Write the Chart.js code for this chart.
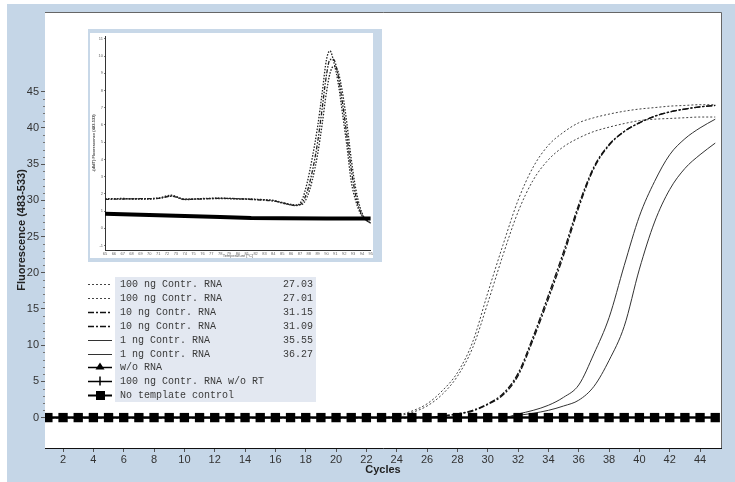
<!DOCTYPE html>
<html lang="en">
<head>
<meta charset="UTF-8">
<title>Amplification curves</title>
<script src="https://cdn.jsdelivr.net/npm/chart.js"></script>
<style>
  html, body { margin: 0; padding: 0; background: #fff; }
  #page { position: relative; width: 735px; height: 482px; overflow: hidden; }
  #frame { position: absolute; left: 7px; top: 4px; width: 728px; height: 478px; background: #c5d6e7; }
  #mainChart { position: absolute; left: 0; top: 0; }
  #insetBox { position: absolute; left: 88px; top: 29px; width: 294px; height: 233px; background: #c8d8e8; }
  #insetChart { position: absolute; left: 90px; top: 33px; background: #fff; }
</style>
</head>
<body>
<div id="page">
  <div id="frame"></div>
  <canvas id="mainChart" width="735" height="482"></canvas>
  <div id="insetBox"></div>
  <canvas id="insetChart" width="283" height="225"></canvas>
</div>

<script>
// amplification data, one value per cycle
const cycles = [1, 2, 3, 4, 5, 6, 7, 8, 9, 10, 11, 12, 13, 14, 15, 16, 17, 18, 19, 20, 21, 22, 23,
  24, 25, 26, 27, 28, 29, 30, 31, 32, 33, 34, 35, 36, 37, 38, 39, 40, 41, 42, 43, 44, 45];

const ng100a = [0, 0, 0, 0, 0, 0, 0, 0, 0, 0, 0, 0, 0, 0, 0, 0, 0, 0, 0, 0, 0, 0, 0,
  0.3, 0.9, 1.9, 3.7, 6.2, 10.4, 17.2, 23.8, 30.0, 34.6, 37.6, 39.4, 40.7, 41.4, 41.9, 42.3, 42.6, 42.8, 43.0, 43.1, 43.2, 43.2];
const ng100b = [0, 0, 0, 0, 0, 0, 0, 0, 0, 0, 0, 0, 0, 0, 0, 0, 0, 0, 0, 0, 0, 0, 0,
  0.2, 0.7, 1.6, 3.2, 5.7, 9.6, 15.8, 22.4, 28.4, 32.8, 35.6, 37.4, 38.6, 39.5, 40.1, 40.6, 41.0, 41.2, 41.3, 41.4, 41.5, 41.5];
const ng10a = [0, 0, 0, 0, 0, 0, 0, 0, 0, 0, 0, 0, 0, 0, 0, 0, 0, 0, 0, 0, 0, 0, 0, 0, 0, 0,
  0.2, 0.5, 0.9, 1.8, 3.1, 5.8, 10.8, 16.4, 22.4, 29.0, 34.4, 37.6, 39.5, 40.7, 41.6, 42.2, 42.6, 42.9, 43.1];
const ng10b = [0, 0, 0, 0, 0, 0, 0, 0, 0, 0, 0, 0, 0, 0, 0, 0, 0, 0, 0, 0, 0, 0, 0, 0, 0, 0,
  0.2, 0.5, 1.0, 1.9, 3.3, 6.1, 11.2, 16.9, 22.9, 29.4, 34.6, 37.7, 39.5, 40.7, 41.6, 42.2, 42.6, 42.9, 43.1];
const ng1a = [0, 0, 0, 0, 0, 0, 0, 0, 0, 0, 0, 0, 0, 0, 0, 0, 0, 0, 0, 0, 0, 0, 0, 0, 0, 0, 0, 0, 0, 0, 0,
  0.5, 1.0, 1.7, 2.8, 4.5, 8.8, 13.8, 21.0, 27.8, 32.6, 36.3, 38.5, 40.0, 41.2];
const ng1b = [0, 0, 0, 0, 0, 0, 0, 0, 0, 0, 0, 0, 0, 0, 0, 0, 0, 0, 0, 0, 0, 0, 0, 0, 0, 0, 0, 0, 0, 0, 0,
  0.3, 0.6, 1.0, 1.6, 2.4, 4.3, 7.9, 12.6, 20.5, 27.0, 31.5, 34.4, 36.3, 37.9];
const noRna = [0, 0, 0, 0, 0, 0, 0, 0, 0, 0, 0, 0, 0, 0, 0, 0, 0, 0, 0, 0, 0, 0, 0,
  0, 0, 0, 0, 0, 0, 0, 0, 0, 0, 0, 0, 0, 0, 0, 0, 0, 0, 0, 0, 0, 0];
const noRt = [0, 0, 0, 0, 0, 0, 0, 0, 0, 0, 0, 0, 0, 0, 0, 0, 0, 0, 0, 0, 0, 0, 0,
  0, 0, 0, 0, 0, 0, 0, 0, 0, 0, 0, 0, 0, 0, 0, 0, 0, 0, 0, 0, 0, 0];
const ntc = [0, 0, 0, 0, 0, 0, 0, 0, 0, 0, 0, 0, 0, 0, 0, 0, 0, 0, 0, 0, 0, 0, 0,
  0, 0, 0, 0, 0, 0, 0, 0, 0, 0, 0, 0, 0, 0, 0, 0, 0, 0, 0, 0, 0, 0];

const sampleNames = ['100 ng Contr. RNA', '100 ng Contr. RNA', '10 ng Contr. RNA', '10 ng Contr. RNA',
  '1 ng Contr. RNA', '1 ng Contr. RNA', 'w/o RNA', '100 ng Contr. RNA w/o RT', 'No template control'];
const ctValues = ['27.03', '27.01', '31.15', '31.09', '35.55', '36.27', '', '', ''];

const xTicks = [2, 4, 6, 8, 10, 12, 14, 16, 18, 20, 22, 24, 26, 28, 30, 32, 34, 36, 38, 40, 42, 44];
const yTicks = [0, 5, 10, 15, 20, 25, 30, 35, 40, 45];

// melting curve (inset)
const meltTemps = [65, 67, 69, 71, 72.5, 74, 76, 78, 80, 82, 84, 85.5, 86.5, 87.2, 87.8, 88.4, 89, 89.5,
  90, 90.4, 90.8, 91.3, 91.8, 92.3, 92.8, 93.3, 93.8, 94.3, 95];
const meltHigh = [1.70, 1.73, 1.71, 1.76, 1.92, 1.66, 1.73, 1.75, 1.71, 1.69, 1.60, 1.40, 1.33, 1.60, 2.60, 4.10, 5.90, 7.80,
  9.80, 10.30, 9.70, 8.50, 6.70, 4.80, 2.70, 1.60, 0.90, 0.55, 0.30];
const meltMid = [1.68, 1.70, 1.72, 1.74, 1.86, 1.68, 1.70, 1.74, 1.72, 1.66, 1.58, 1.42, 1.32, 1.45, 2.10, 3.30, 5.00, 6.90,
  8.90, 9.80, 9.80, 8.90, 7.30, 5.40, 3.40, 1.90, 1.00, 0.55, 0.30];
const meltLow = [1.72, 1.71, 1.69, 1.73, 1.88, 1.70, 1.72, 1.73, 1.70, 1.67, 1.62, 1.44, 1.36, 1.38, 1.80, 2.80, 4.30, 6.00,
  7.90, 9.00, 9.40, 9.10, 7.90, 6.10, 4.00, 2.30, 1.20, 0.60, 0.30];
const negTemps = [65, 68, 72, 75, 78, 81.5, 85, 90, 95];
const negMelt = [0.84, 0.80, 0.74, 0.70, 0.66, 0.60, 0.58, 0.57, 0.57];
const meltXTicks = [65, 66, 67, 68, 69, 70, 71, 72, 73, 74, 75, 76, 77, 78, 79, 80, 81, 82, 83, 84, 85, 86, 87, 88, 89, 90, 91, 92, 93, 94, 95];
const meltYTicks = [-1, 0, 1, 2, 3, 4, 5, 6, 7, 8, 9, 10, 11];

function pts(xs, ys) {
  return xs.map((x, i) => ({ x: x, y: ys[i] }));
}

const dotted = [2, 2];
const dashDot = [6, 2, 2, 2];

function curve(label, vals, dash, color, width) {
  return {
    label: label,
    data: pts(cycles, vals),
    borderColor: color,
    borderWidth: width,
    borderDash: dash,
    pointRadius: 0,
    fill: false,
    cubicInterpolationMode: 'monotone'
  };
}

const datasets = [
  curve(sampleNames[0], ng100a, dotted, '#444', 1),
  curve(sampleNames[1], ng100b, dotted, '#444', 1),
  curve(sampleNames[2], ng10a, dashDot, '#111', 1.3),
  curve(sampleNames[3], ng10b, dashDot, '#111', 1.3),
  curve(sampleNames[4], ng1a, [], '#333', 1),
  curve(sampleNames[5], ng1b, [], '#333', 1),
  { label: sampleNames[6], data: pts(cycles, noRna), borderColor: '#000', backgroundColor: '#000', borderWidth: 1.5,
    pointStyle: 'triangle', pointRadius: 3, pointBorderWidth: 0, order: 1 },
  { label: sampleNames[7], data: pts(cycles, noRt), borderColor: '#000', backgroundColor: '#000', borderWidth: 1.5,
    pointStyle: 'cross', pointRadius: 3, pointBorderWidth: 1, order: 1 },
  { label: sampleNames[8], data: pts(cycles, ntc), borderColor: '#000', backgroundColor: '#000', borderWidth: 2,
    pointStyle: 'rect', pointRadius: 6.6, pointBorderWidth: 0, order: -1 }
];

// white plot area + frame on top/right
const plotFrame = {
  id: 'plotFrame',
  beforeDatasetsDraw(chart) {
    const { ctx, chartArea: a } = chart;
    ctx.save();
    ctx.fillStyle = '#fff';
    ctx.fillRect(a.left, a.top, a.right - a.left, a.bottom - a.top);
    ctx.restore();
  },
  afterDraw(chart) {
    const { ctx, chartArea: a } = chart;
    ctx.save();
    ctx.strokeStyle = '#666';
    ctx.lineWidth = 1;
    ctx.beginPath();
    ctx.moveTo(a.left, Math.round(a.top) + 0.5);
    ctx.lineTo(Math.round(a.right) + 0.5, Math.round(a.top) + 0.5);
    ctx.lineTo(Math.round(a.right) + 0.5, a.bottom);
    ctx.stroke();
    // minor ticks on y
    const ys = chart.scales.y;
    ctx.strokeStyle = '#777';
    for (let v = 0; v <= 45; v++) {
      if (v % 5 === 0) continue;
      const py = Math.round(ys.getPixelForValue(v)) + 0.5;
      ctx.beginPath();
      ctx.moveTo(a.left - 2, py);
      ctx.lineTo(a.left, py);
      ctx.stroke();
    }
    ctx.restore();
  }
};

// legend box with Ct values
const ctLegend = {
  id: 'ctLegend',
  afterDraw(chart) {
    const ctx = chart.ctx;
    ctx.save();
    ctx.fillStyle = '#e3e8f1';
    ctx.fillRect(115, 277, 201, 125);
    ctx.font = "10px 'Liberation Mono', 'Courier New', monospace";
    ctx.textBaseline = 'middle';
    chart.data.datasets.forEach((ds, i) => {
      const y = Math.round(284 + i * 13.9) + 0.5;
      ctx.strokeStyle = ds.borderColor;
      ctx.lineWidth = ds.borderWidth;
      ctx.setLineDash(ds.borderDash || []);
      ctx.beginPath();
      ctx.moveTo(88, y);
      ctx.lineTo(112, y);
      ctx.stroke();
      ctx.setLineDash([]);
      ctx.fillStyle = '#000';
      if (ds.pointStyle === 'triangle') {
        ctx.beginPath();
        ctx.moveTo(100, y - 5);
        ctx.lineTo(104.5, y + 2);
        ctx.lineTo(95.5, y + 2);
        ctx.closePath();
        ctx.fill();
      } else if (ds.pointStyle === 'cross') {
        ctx.lineWidth = 1.5;
        ctx.beginPath();
        ctx.moveTo(100, y - 5);
        ctx.lineTo(100, y + 4);
        ctx.stroke();
      } else if (ds.pointStyle === 'rect') {
        ctx.fillRect(96, y - 4.5, 9, 9);
      }
      ctx.fillStyle = '#3a3a3a';
      ctx.textAlign = 'left';
      ctx.fillText(ds.label, 120, y);
      if (ctValues[i]) {
        ctx.textAlign = 'right';
        ctx.fillText(ctValues[i], 313, y);
      }
    });
    ctx.restore();
  }
};

new Chart(document.getElementById('mainChart'), {
  type: 'line',
  data: { datasets: datasets },
  plugins: [plotFrame, ctLegend],
  options: {
    responsive: false,
    animation: false,
    layout: { padding: { top: 12, right: 14, left: 0, bottom: 0 } },
    plugins: { legend: { display: false }, tooltip: { enabled: false } },
    scales: {
      x: {
        type: 'linear',
        min: 0.81,
        max: 45.38,
        afterBuildTicks: s => { s.ticks = xTicks.map(v => ({ value: v })); },
        afterFit: s => { s.height = 34; },
        ticks: { color: '#333', font: { family: 'Liberation Sans', size: 11 }, padding: 1, maxRotation: 0, autoSkip: false },
        grid: { drawOnChartArea: false, tickLength: 4, color: '#555' },
        border: { color: '#111', width: 1 },
        title: { display: true, text: 'Cycles', color: '#222',
          font: { family: 'Liberation Sans', size: 11, weight: 'bold' }, padding: { top: 0, bottom: 5 } }
      },
      y: {
        type: 'linear',
        min: -4.2,
        max: 56,
        afterBuildTicks: s => { s.ticks = yTicks.map(v => ({ value: v })); },
        afterFit: s => { s.width = 45; },
        ticks: { color: '#333', font: { family: 'Liberation Sans', size: 11 }, padding: 2, autoSkip: false },
        grid: { drawOnChartArea: false, tickLength: 4, color: '#555' },
        border: { color: '#111', width: 1 },
        title: { display: true, text: 'Fluorescence (483-533)', color: '#222',
          font: { family: 'Liberation Sans', size: 11, weight: 'bold' }, padding: { top: 15, bottom: 0 } }
      }
    }
  }
});

// inset: melting peaks
function meltCurve(vals, dash) {
  return {
    data: pts(meltTemps, vals),
    borderColor: '#222',
    borderWidth: 1.3,
    borderDash: dash,
    pointRadius: 0,
    cubicInterpolationMode: 'monotone'
  };
}

new Chart(document.getElementById('insetChart'), {
  type: 'line',
  data: {
    datasets: [
      { data: pts(negTemps, negMelt), borderColor: '#000', borderWidth: 4, pointRadius: 0, tension: 0 },
      meltCurve(meltHigh, [1.5, 1.5]),
      meltCurve(meltMid, [4, 1.5, 1.5, 1.5]),
      meltCurve(meltLow, [1.5, 1.5])
    ]
  },
  options: {
    responsive: false,
    animation: false,
    layout: { padding: { top: 0, right: 1, left: 0, bottom: 0 } },
    plugins: { legend: { display: false }, tooltip: { enabled: false } },
    scales: {
      x: {
        type: 'linear',
        min: 65,
        max: 95,
        afterBuildTicks: s => { s.ticks = meltXTicks.map(v => ({ value: v })); },
        afterFit: s => { s.height = 8; },
        ticks: { color: '#666', font: { size: 4 }, padding: 0, maxRotation: 0, autoSkip: false },
        grid: { drawOnChartArea: false, tickLength: 1, color: '#777' },
        border: { color: '#333' },
        title: { display: true, text: 'Temperature [°C]', color: '#555', font: { size: 4 }, padding: 0 }
      },
      y: {
        type: 'linear',
        min: -1.26,
        max: 11.14,
        afterBuildTicks: s => { s.ticks = meltYTicks.map(v => ({ value: v })); },
        afterFit: s => { s.width = 15; },
        ticks: { color: '#666', font: { size: 4 }, padding: 1, autoSkip: false },
        grid: { drawOnChartArea: false, tickLength: 1, color: '#777' },
        border: { color: '#333' },
        title: { display: true, text: '-(d/dT) Fluorescence (483-533)', color: '#444',
          font: { size: 4, weight: 'bold' }, padding: { top: 1, bottom: 0 } }
      }
    }
  }
});
</script>
</body>
</html>
